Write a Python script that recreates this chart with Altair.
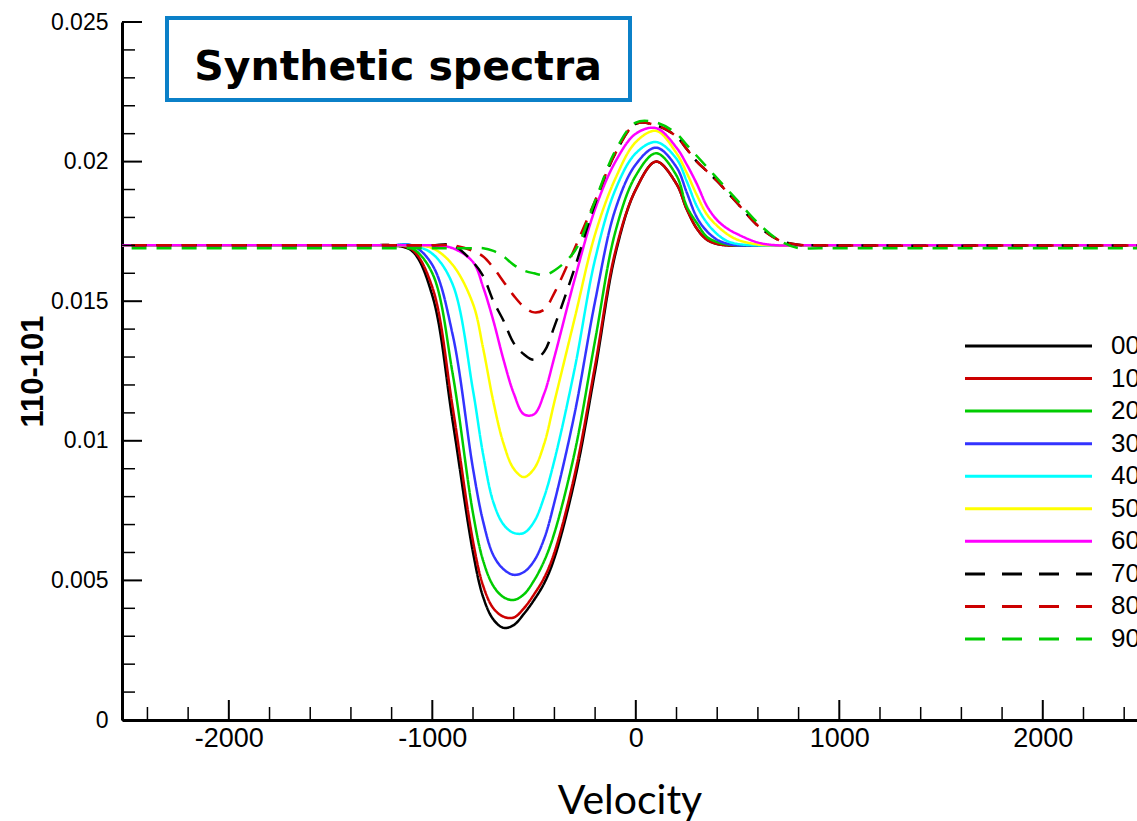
import altair as alt
import pandas as pd

velocity = [-2600, -1300, -1200, -1100, -1000, -900, -800, -750, -700, -650, -600, -550, -500,
            -450, -400, -300, -200, -100, 0, 100, 200, 250, 300, 350, 400, 450, 500, 600, 700, 800, 900, 2600]

series_names = ["00", "10", "20", "30", "40", "50", "60", "70", "80", "90"]

s00 = [0.0170, 0.0170, 0.0170, 0.0168, 0.0152, 0.0107, 0.0060, 0.0044, 0.0036, 0.0033, 0.0034, 0.0038, 0.0043,
       0.0049, 0.0058, 0.0086, 0.0125, 0.0167,
       0.0190, 0.0200, 0.0192, 0.0183, 0.0176, 0.0172, 0.01705, 0.0170, 0.0170, 0.0170, 0.0170, 0.0170, 0.0170, 0.0170]
s10 = [0.0170, 0.0170, 0.0170, 0.01685, 0.0155, 0.0112, 0.0064, 0.0048, 0.0040, 0.0037, 0.00367, 0.0040, 0.0045,
       0.0051, 0.0060, 0.0088, 0.0127, 0.0168,
       0.0190, 0.0200, 0.0192, 0.0183, 0.0176, 0.0172, 0.01705, 0.0170, 0.0170, 0.0170, 0.0170, 0.0170, 0.0170, 0.0170]
s20 = [0.0170, 0.0170, 0.0170, 0.0169, 0.0160, 0.0124, 0.0074, 0.0057, 0.0048, 0.0044, 0.0043, 0.0045, 0.0050,
       0.0057, 0.0067, 0.0096, 0.0136, 0.0175,
       0.0195, 0.0203, 0.0195, 0.0184, 0.0178, 0.0173, 0.01712, 0.01703, 0.0170, 0.0170, 0.0170, 0.0170, 0.0170, 0.0170]
s30 = [0.0170, 0.0170, 0.0170, 0.0170, 0.0163, 0.0138, 0.0090, 0.0071, 0.0059, 0.0054, 0.0052, 0.0053, 0.0057,
       0.0065, 0.0078, 0.0110, 0.0150, 0.0183,
       0.0199, 0.0205, 0.0198, 0.0189, 0.0180, 0.0175, 0.0172, 0.01706, 0.0170, 0.0170, 0.0170, 0.0170, 0.0170, 0.0170]
s40 = [0.0170, 0.0170, 0.0170, 0.0170, 0.0167, 0.0156, 0.0118, 0.0095, 0.0078, 0.0070, 0.0067, 0.0067, 0.0071,
       0.0080, 0.0093, 0.0126, 0.0165, 0.0190,
       0.0203, 0.0207, 0.0201, 0.0193, 0.0184, 0.0178, 0.0174, 0.01715, 0.01705, 0.0170, 0.0170, 0.0170, 0.0170, 0.0170]
s50 = [0.0170, 0.0170, 0.0170, 0.0170, 0.0169, 0.0163, 0.0149, 0.0133, 0.0114, 0.0099, 0.0090, 0.0087, 0.0090,
       0.0099, 0.0114, 0.0144, 0.0174, 0.0194,
       0.0207, 0.0211, 0.0203, 0.0196, 0.0188, 0.0181, 0.0177, 0.0174, 0.0172, 0.01703, 0.0170, 0.0170, 0.0170, 0.0170]
s60 = [0.0170, 0.0170, 0.0170, 0.0170, 0.0170, 0.0169, 0.0164, 0.0155, 0.0143, 0.0129, 0.0117, 0.01095, 0.01095,
       0.0117, 0.0130, 0.0158, 0.0183, 0.0200,
       0.0210, 0.0212, 0.0205, 0.0199, 0.0192, 0.0184, 0.0179, 0.0176, 0.0174, 0.0171, 0.0170, 0.0170, 0.0170, 0.0170]
s70 = [0.0170, 0.0170, 0.0170, 0.0170, 0.0170, 0.0170, 0.0164, 0.0159, 0.0150, 0.0143, 0.0135, 0.0131, 0.0129,
       0.0132, 0.0141, 0.0162, 0.0185, 0.0203,
       0.02135, 0.0213, 0.0209, 0.02045, 0.0200, 0.01965, 0.0193, 0.0189, 0.0185, 0.0177, 0.0172, 0.01702, 0.0170, 0.0170]
s80 = [0.0170, 0.0170, 0.0170, 0.0170, 0.0170, 0.0170, 0.0168, 0.0166, 0.0162, 0.0157, 0.0152, 0.0148, 0.0146,
       0.0147, 0.0153, 0.0169, 0.0186, 0.0203,
       0.02135, 0.0213, 0.0209, 0.02045, 0.0200, 0.01965, 0.0193, 0.0189, 0.0185, 0.0177, 0.0172, 0.01702, 0.0170, 0.0170]
s90 = [0.0169, 0.0169, 0.0169, 0.0169, 0.0169, 0.0169, 0.0169, 0.0169, 0.0168, 0.0166, 0.0163, 0.0161, 0.0160,
       0.01594, 0.0161, 0.0168, 0.0186, 0.0204,
       0.0214, 0.0214, 0.0210, 0.0206, 0.0202, 0.0198, 0.0194, 0.0190, 0.0186, 0.0178, 0.0172, 0.0169, 0.0169, 0.0169]

all_series = [s00, s10, s20, s30, s40, s50, s60, s70, s80, s90]

colors = ["#000000", "#cc0000", "#00cc00", "#3333ff", "#00ffff",
          "#ffff00", "#ff00ff", "#000000", "#cc0000", "#00cc00"]

x_major = [-2000, -1000, 0, 1000, 2000]
x_minor = [-2400, -2200, -1800, -1600, -1400, -1200, -800, -600, -400, -200,
           200, 400, 600, 800, 1200, 1400, 1600, 1800, 2200, 2400]
y_major = [0, 0.005, 0.01, 0.015, 0.02, 0.025]
y_minor = [0.001, 0.002, 0.003, 0.004, 0.006, 0.007, 0.008, 0.009, 0.011, 0.012,
           0.013, 0.014, 0.016, 0.017, 0.018, 0.019, 0.021, 0.022, 0.023, 0.024]

rows = []
for name, vals in zip(series_names, all_series):
    for v, f in zip(velocity, vals):
        rows.append({"series": name, "velocity": v, "flux": f})
df = pd.DataFrame(rows)

W, H = 1015, 698
xscale = alt.Scale(domain=[-2525, 2463], nice=False, zero=False)
yscale = alt.Scale(domain=[0, 0.025], nice=False, zero=False)
color_scale = alt.Scale(domain=series_names, range=colors)

lines = alt.Chart(df).mark_line(strokeWidth=2.5, interpolate="catmull-rom", clip=True).encode(
    x=alt.X("velocity:Q", scale=xscale,
            axis=alt.Axis(values=x_major, ticks=False, grid=False, labelExpr="'' + datum.value",
                          labelFontSize=27, labelFont="Liberation Sans", labelColor="black",
                          labelPadding=5, domainWidth=3, domainColor="black",
                          title="Velocity", titleFont="Lato", titleFontSize=41,
                          titleFontWeight="normal", titleColor="black",
                          titleY=93, titleBaseline="alphabetic")),
    y=alt.Y("flux:Q", scale=yscale,
            axis=alt.Axis(values=y_major, ticks=False, grid=False, labelExpr="'' + datum.value",
                          labelFontSize=23, labelFont="Liberation Sans", labelColor="black",
                          labelPadding=14, domainWidth=3, domainColor="black",
                          title="110-101", titleFont="Liberation Sans", titleFontSize=31,
                          titleFontWeight="bold", titleColor="black", titleAngle=270,
                          titleX=-89, titleY=349, titleAlign="center", titleBaseline="middle")),
    color=alt.Color("series:N", scale=color_scale, legend=None),
    strokeDash=alt.StrokeDash("series:N",
                              scale=alt.Scale(domain=series_names, range=[[1, 0]] * 7 + [[15, 10]] * 3),
                              legend=None),
)

xt_maj = alt.Chart(pd.DataFrame({"velocity": x_major})).mark_rule(color="black", strokeWidth=2).encode(
    x=alt.X("velocity:Q", scale=xscale), y=alt.value(H), y2=alt.value(H - 20))
xt_min = alt.Chart(pd.DataFrame({"velocity": x_minor})).mark_rule(color="black", strokeWidth=1.5).encode(
    x=alt.X("velocity:Q", scale=xscale), y=alt.value(H), y2=alt.value(H - 13))
yt_maj = alt.Chart(pd.DataFrame({"flux": y_major})).mark_rule(color="black", strokeWidth=2).encode(
    y=alt.Y("flux:Q", scale=yscale), x=alt.value(0), x2=alt.value(20))
yt_min = alt.Chart(pd.DataFrame({"flux": y_minor})).mark_rule(color="black", strokeWidth=1.5).encode(
    y=alt.Y("flux:Q", scale=yscale), x=alt.value(0), x2=alt.value(13))

title_df = pd.DataFrame({"label": ["Synthetic spectra"]})
box = alt.Chart(title_df).mark_rect(fill="white", stroke="#0b80c8", strokeWidth=4).encode(
    x=alt.value(45), x2=alt.value(508), y=alt.value(-4), y2=alt.value(78))
box_text = alt.Chart(title_df).mark_text(font="DejaVu Sans", fontWeight="bold", fontSize=41,
                                         color="black", align="center", baseline="alphabetic").encode(
    x=alt.value(276), y=alt.value(58), text="label:N")

main = alt.layer(lines, xt_maj, xt_min, yt_maj, yt_min, box, box_text)

leg_df = pd.DataFrame({"series": series_names})
leg_y = alt.Y("series:N", scale=alt.Scale(type="point", domain=series_names, range=[324, 617], padding=0),
              axis=None)
leg_rules = alt.Chart(leg_df).mark_rule(strokeWidth=3).encode(
    x=alt.value(843), x2=alt.value(970), y=leg_y,
    color=alt.Color("series:N", scale=color_scale, legend=None),
    strokeDash=alt.StrokeDash("series:N",
                              scale=alt.Scale(domain=series_names, range=[[1, 0]] * 7 + [[20, 17]] * 3),
                              legend=None),
)
leg_text = alt.Chart(leg_df).mark_text(align="left", baseline="middle", fontSize=26,
                                       font="Liberation Sans", color="black").encode(
    x=alt.value(989), y=leg_y, text="series:N")
legend = alt.layer(leg_rules, leg_text)

chart = alt.layer(main, legend).resolve_scale(y="independent", strokeDash="independent").properties(
    width=W, height=H,
    autosize=alt.AutoSizeParams(type="none"),
    padding={"left": 122, "top": 22, "right": 0, "bottom": 101},
    background="white",
).configure_view(strokeWidth=0)

chart.save("out.html", embed_options={"renderer": "svg", "actions": False})
